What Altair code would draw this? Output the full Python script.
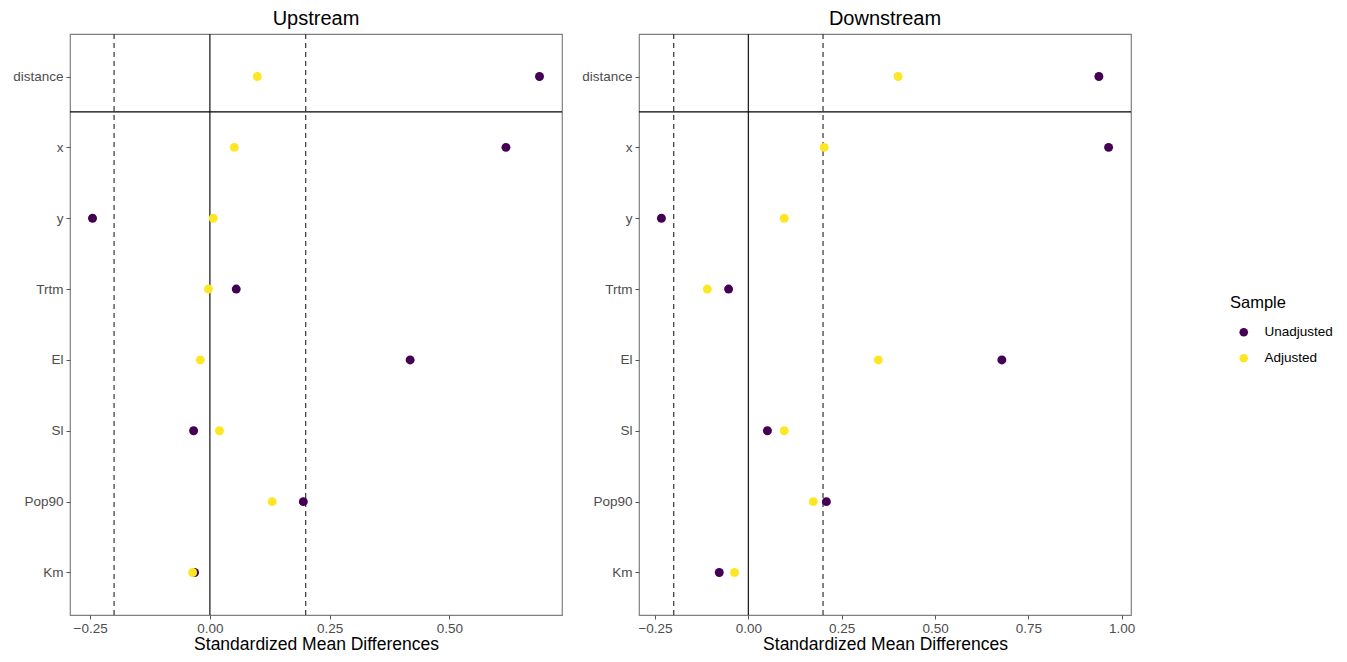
import altair as alt
import pandas as pd

# ---- data ----
variables = ["distance", "x", "y", "Trtm", "El", "Sl", "Pop90", "Km"]
samples = ["Unadjusted", "Adjusted"]

up_unadjusted = [0.688, 0.618, -0.245, 0.055, 0.418, -0.034, 0.195, -0.032]
up_adjusted = [0.099, 0.051, 0.007, -0.003, -0.020, 0.020, 0.130, -0.036]
down_unadjusted = [0.939, 0.965, -0.233, -0.053, 0.679, 0.051, 0.209, -0.078]
down_adjusted = [0.401, 0.203, 0.096, -0.110, 0.348, 0.096, 0.174, -0.037]

threshold_lines = [-0.2, 0.2]
zero_line = [0.0]
separator = [0.5]  # between "distance" and "x"

up_ticks = [-0.25, 0.0, 0.25, 0.5]
down_ticks = [-0.25, 0.0, 0.25, 0.5, 0.75, 1.0]
up_domain = [-0.292, 0.735]
down_domain = [-0.293, 1.025]

colors = ["#440154", "#FDE725"]

FONT = "Liberation Sans"
label_expr = "[" + ",".join("'%s'" % v for v in variables) + "][datum.value]"


def make_df(unadj, adj):
    rows = []
    for i, (v, val) in enumerate(zip(variables, unadj)):
        rows.append({"idx": i, "var": v, "Sample": "Unadjusted", "smd": val})
    for i, (v, val) in enumerate(zip(variables, adj)):
        rows.append({"idx": i, "var": v, "Sample": "Adjusted", "smd": val})
    return pd.DataFrame(rows)


def panel(title, unadj, adj, ticks, domain):
    df = make_df(unadj, adj)
    xscale = alt.Scale(domain=domain, nice=False, zero=False)
    yscale = alt.Scale(domain=[-0.6, len(variables) - 1 + 0.6], reverse=True, nice=False, zero=False)

    xaxis = alt.Axis(values=ticks, format=".2f", title="Standardized Mean Differences",
                     grid=False, domain=False, tickColor="#555555", tickSize=4,
                     labelColor="#4D4D4D", labelFontSize=13.5, labelFont=FONT,
                     titleFont=FONT, titleFontSize=17.5, titleFontWeight="normal",
                     titleColor="#000000", labelPadding=2, titlePadding=1)
    yaxis = alt.Axis(values=list(range(len(variables))), labelExpr=label_expr, title=None,
                     grid=False, domain=False, tickColor="#555555", tickSize=4,
                     labelColor="#4D4D4D", labelFontSize=13.5, labelFont=FONT,
                     labelPadding=3, minExtent=61, maxExtent=61)

    dashed = alt.Chart(pd.DataFrame({"v": threshold_lines})).mark_rule(
        color="#333333", strokeDash=[5, 4], strokeWidth=1.2
    ).encode(x=alt.X("v:Q", scale=xscale, axis=xaxis))

    zero = alt.Chart(pd.DataFrame({"v": zero_line})).mark_rule(
        color="#222222", strokeWidth=1.3
    ).encode(x=alt.X("v:Q", scale=xscale))

    sep = alt.Chart(pd.DataFrame({"s": separator})).mark_rule(
        color="#000000", strokeWidth=1.3
    ).encode(y=alt.Y("s:Q", scale=yscale, axis=yaxis))

    pts = alt.Chart(df).mark_point(filled=True, size=80, opacity=1, shape="circle").encode(
        x=alt.X("smd:Q", scale=xscale, axis=xaxis),
        y=alt.Y("idx:Q", scale=yscale, axis=yaxis),
        color=alt.Color("Sample:N", scale=alt.Scale(domain=samples, range=colors),
                        sort=samples,
                        legend=alt.Legend(title="Sample", orient="none", legendX=1160, legendY=261,
                                          titleFontSize=16.5, titleFontWeight="normal", titleFont=FONT,
                                          titleColor="#000000", labelFontSize=13.5, labelFont=FONT,
                                          labelColor="#000000", symbolType="circle", symbolSize=75,
                                          symbolStrokeWidth=0, rowPadding=11, titlePadding=14,
                                          symbolOffset=7, labelOffset=14)),
        order=alt.Order("ord:Q"),
    ).transform_calculate(ord="datum.Sample == 'Unadjusted' ? 0 : 1")

    return alt.layer(dashed, zero, sep, pts).properties(
        width=492, height=581,
        title=alt.TitleParams(title, fontSize=20, fontWeight="normal", font=FONT,
                              anchor="middle", offset=4, color="#000000"),
    )


left = panel("Upstream", up_unadjusted, up_adjusted, up_ticks, up_domain)
right = panel("Downstream", down_unadjusted, down_adjusted, down_ticks, down_domain)

chart = alt.hconcat(left, right, spacing=13).properties(
    padding={"left": 0, "top": 0, "right": 0, "bottom": 0},
    background="white",
).configure_view(
    stroke="#7F7F7F", strokeWidth=1.2
)

chart.save("out.html", embed_options={"renderer": "svg", "actions": False})
